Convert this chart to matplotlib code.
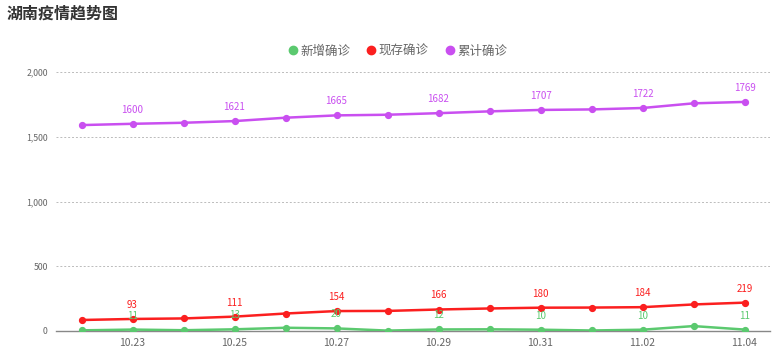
import matplotlib
matplotlib.use("Agg")
import matplotlib.pyplot as plt
from matplotlib.lines import Line2D

plt.rcParams['font.family'] = ['Noto Sans CJK SC', 'DejaVu Sans']

# dates on the x axis
dates = ['10.22', '10.23', '10.24', '10.25', '10.26', '10.27', '10.28',
         '10.29', '10.30', '10.31', '11.01', '11.02', '11.03', '11.04']

# series
new_cases = [5, 11, 6, 13, 25, 20, 3, 12, 13, 10, 4, 10, 38, 11]
current_cases = [85, 93, 97, 111, 135, 154, 155, 166, 174, 180, 181, 184, 205, 219]
total_cases = [1590, 1600, 1608, 1621, 1647, 1665, 1670, 1682, 1696, 1707, 1711, 1722, 1758, 1769]

yticks = [0, 500, 1000, 1500, 2000]

series = [
    ('新增确诊', new_cases, '#5bc96f'),
    ('现存确诊', current_cases, '#fb1f1f'),
    ('累计确诊', total_cases, '#c94ff0'),
]

fig = plt.figure(figsize=(7.74, 3.6), dpi=100)
ax = fig.add_axes([56 / 774, 1 - 331 / 360, 714 / 774, 259 / 360])

x = list(range(len(dates)))
for name, vals, color in series:
    ax.plot(x, vals, color=color, lw=1.8, marker='o', ms=4.2, zorder=3)
    # echarts hides every other label, keep the odd ones
    for i in range(1, len(vals), 2):
        ax.annotate(str(vals[i]), (i, vals[i]), xytext=(0, 6.5),
                    textcoords='offset points', ha='center', va='bottom',
                    fontsize=7, color=color, zorder=4)

ax.set_xlim(-0.5, len(dates) - 0.5)
ax.set_ylim(0, 2000)
ax.set_xticks(x[1::2])
ax.set_xticklabels(dates[1::2], fontsize=7.5, color='#666666')
ax.set_yticks(yticks)
ax.set_yticklabels(['{:,}'.format(v) for v in yticks], fontsize=6.3, color='#666666')
ax.tick_params(axis='both', length=0)
ax.tick_params(axis='x', pad=5)
ax.tick_params(axis='y', pad=6)

ax.grid(axis='y', color='#bbbbbb', linestyle=(0, (2, 2)), lw=0.7)
ax.set_axisbelow(True)
for s in ['top', 'right', 'left']:
    ax.spines[s].set_visible(False)
ax.spines['bottom'].set_color('#888888')
ax.spines['bottom'].set_linewidth(1)

fig.text(7 / 774, 1 - 14 / 360, '湖南疫情趋势图', fontsize=11.5, color='#333333',
         fontweight='bold', va='center', ha='left')

handles = [Line2D([], [], marker='o', color=c, ls='none', ms=6) for _, _, c in series]
fig.legend(handles, [n for n, _, _ in series], loc='center', bbox_to_anchor=(397 / 774, 1 - 51 / 360),
           ncol=3, frameon=False, fontsize=9, labelcolor='#666666', handletextpad=0.1,
           columnspacing=1.2, handlelength=1.0)

fig.savefig('out.png', dpi=100)
